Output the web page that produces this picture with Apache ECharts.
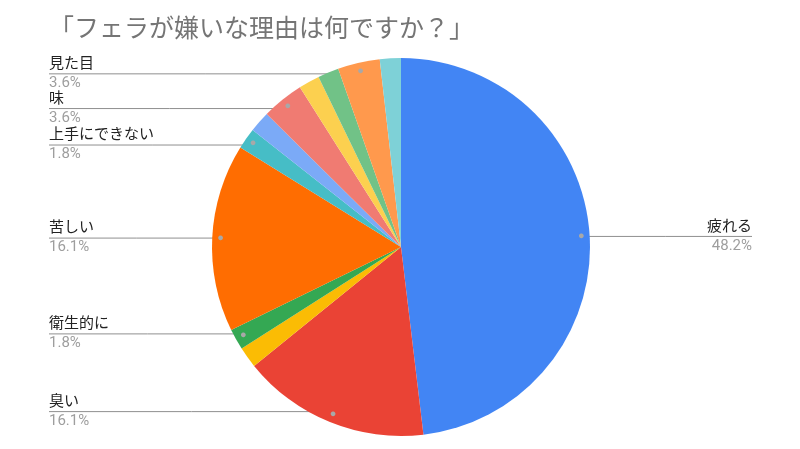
<!DOCTYPE html>
<html>
<head>
<meta charset="utf-8">
<script src="https://cdn.jsdelivr.net/npm/echarts@6/dist/echarts.min.js"></script>
<style>
html,body{margin:0;padding:0;background:#fff;}
#chart{width:800px;height:449px;}
</style>
</head>
<body>
<div id="chart"></div>
<script>
const titleText = '「フェラが嫌いな理由は何ですか？」';
const categories = ['疲れる', '臭い', '', '衛生的に', '苦しい', '上手にできない', '', '味', '', '', '見た目', ''];
const values = [48.2, 16.1, 1.8, 1.8, 16.1, 1.8, 1.8, 3.6, 1.8, 1.8, 3.6, 1.8];
const showLabel = [true, true, false, true, true, true, false, true, false, false, true, false];
const colors = ['#4285F4', '#EA4335', '#FBBC04', '#34A853', '#FF6D01', '#46BDC6', '#7BAAF7', '#F07B72', '#FCD04F', '#71C287', '#FF994D', '#7ED1D7'];

const CX = 401, CY = 247, R = 189, DOT = 0.94;
const LEFT_X = 49, RIGHT_X = 752;
const FONT = 'Roboto, "Noto Sans CJK JP", sans-serif';

const chart = echarts.init(document.getElementById('chart'), null, {renderer: 'canvas'});

const mainData = categories.map((name, i) => ({
  name: name,
  value: values[i],
  itemStyle: {color: colors[i]},
  label: {show: showLabel[i]},
  labelLine: {show: showLabel[i]}
}));
const dotData = categories.map((name, i) => ({
  name: name,
  value: values[i],
  label: {show: showLabel[i]}
}));

function dotPos(idx) {
  const lay = chart.getModel().getSeriesByIndex(0).getData().getItemLayout(idx);
  const mid = (lay.startAngle + lay.endAngle) / 2;
  return [lay.cx + DOT * lay.r * Math.cos(mid), lay.cy + DOT * lay.r * Math.sin(mid)];
}

chart.setOption({
  animation: false,
  backgroundColor: '#ffffff',
  title: {
    text: titleText,
    left: 44,
    top: 10,
    textStyle: {fontFamily: '"Noto Sans CJK JP", sans-serif', fontSize: 25, fontWeight: 'normal', color: '#757575'}
  },
  series: [
    {
      type: 'pie',
      center: [CX, CY],
      radius: [0, R],
      startAngle: 90,
      clockwise: true,
      data: mainData,
      label: {
        position: 'outside',
        formatter: p => '{n|' + p.name + '}\n{p|' + p.value.toFixed(1) + '%}',
        rich: {
          n: {fontFamily: FONT, fontSize: 15, color: '#222222', lineHeight: 19},
          p: {fontFamily: FONT, fontSize: 15, color: '#9e9e9e', lineHeight: 19}
        }
      },
      labelLine: {show: true, lineStyle: {color: '#8f8f8f', width: 1}},
      labelLayout: function (params) {
        const d = dotPos(params.dataIndex);
        const right = d[0] > CX;
        const ex = right ? RIGHT_X : LEFT_X;
        return {
          x: ex,
          y: d[1],
          align: right ? 'right' : 'left',
          verticalAlign: 'middle',
          labelLinePoints: [[d[0], d[1]], [(d[0] + ex) / 2, d[1]], [ex, d[1]]]
        };
      }
    },
    {
      type: 'pie',
      silent: true,
      center: [CX, CY],
      radius: [0, 2 * DOT * R],
      startAngle: 90,
      clockwise: true,
      data: dotData,
      itemStyle: {color: 'rgba(0,0,0,0)'},
      label: {
        position: 'inside',
        formatter: '●',
        fontSize: 11,
        color: '#a8a8a8'
      },
      labelLine: {show: false}
    }
  ]
});
</script>
</body>
</html>
